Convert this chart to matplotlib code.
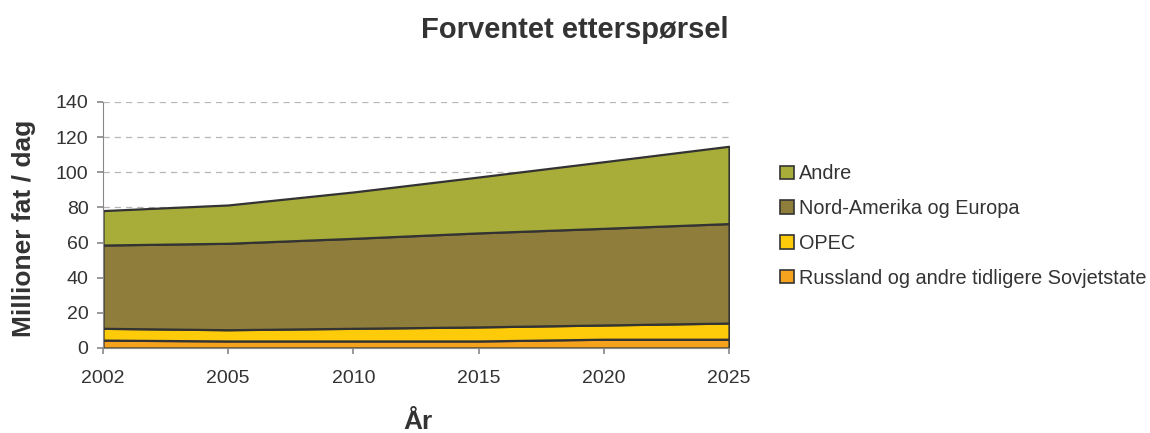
import matplotlib
matplotlib.use("Agg")
import matplotlib.pyplot as plt
from matplotlib.patches import Patch
import numpy as np

years = ["2002", "2005", "2010", "2015", "2020", "2025"]
russland = [4.5, 4.0, 4.0, 4.0, 5.0, 5.0]
opec = [6.7, 6.4, 7.2, 8.0, 8.1, 9.2]
nord = [47.4, 49.2, 51.2, 53.5, 55.0, 56.6]
andre = [19.6, 21.8, 26.4, 31.8, 37.9, 44.0]

names = ["Russland og andre tidligere Sovjetstate", "OPEC",
         "Nord-Amerika og Europa", "Andre"]
colors = ["#F5A21E", "#FDCB0A", "#8F7D3B", "#A8AD3A"]
yticks = [0, 20, 40, 60, 80, 100, 120, 140]

plt.rcParams['font.family'] = ['Liberation Sans', 'DejaVu Sans']
txt = "#333333"

fig = plt.figure(figsize=(11.5, 4.33), dpi=100)
ax = fig.add_axes([103/1150, 85/433, 626/1150, 246/433])

x = np.arange(len(years))
ax.stackplot(x, russland, opec, nord, andre, colors=colors,
             edgecolor="#333333", linewidth=1.6, zorder=2)

ax.set_xlim(0, len(years) - 1)
ax.set_ylim(0, 140)
ax.set_xticks(x)
ax.set_xticklabels(years)
ax.set_yticks(yticks)
ax.yaxis.grid(True, linestyle=(0, (5, 4)), color="#bdb4b4", linewidth=0.9, zorder=0)
ax.set_axisbelow(True)

for s in ["top", "right"]:
    ax.spines[s].set_visible(False)
ax.spines["left"].set_color("#888888")
ax.spines["bottom"].set_color("#888888")
ax.tick_params(axis="both", colors="#888888", labelcolor=txt, labelsize=14,
               length=4.5, width=1.2, direction="out")
ax.tick_params(axis="x", pad=11)
ax.tick_params(axis="y", pad=6)

fig.text(0.5, 1 - 30/433, "Forventet etterspørsel", ha="center", va="center",
         fontsize=21, fontweight="bold", color=txt)
fig.text(24/1150, 1 - 228/433, "Millioner fat / dag", ha="center", va="center",
         rotation=90, fontsize=19, fontweight="bold", color=txt)
fig.text(418/1150, 1 - 422/433, "År", ha="center", va="center",
         fontsize=19, fontweight="bold", color=txt)

handles = [Patch(facecolor=c, edgecolor="#333333", linewidth=1.2) for c in colors]
leg = fig.legend(handles[::-1], names[::-1], loc="center left",
                 bbox_to_anchor=(780/1150, 1 - 226/433), frameon=False,
                 fontsize=14.3, handlelength=0.7, handleheight=0.65,
                 handletextpad=0.25, labelspacing=0.8, borderaxespad=0,
                 borderpad=0)
for t in leg.get_texts():
    t.set_color(txt)

fig.savefig("out.png", dpi=100)
